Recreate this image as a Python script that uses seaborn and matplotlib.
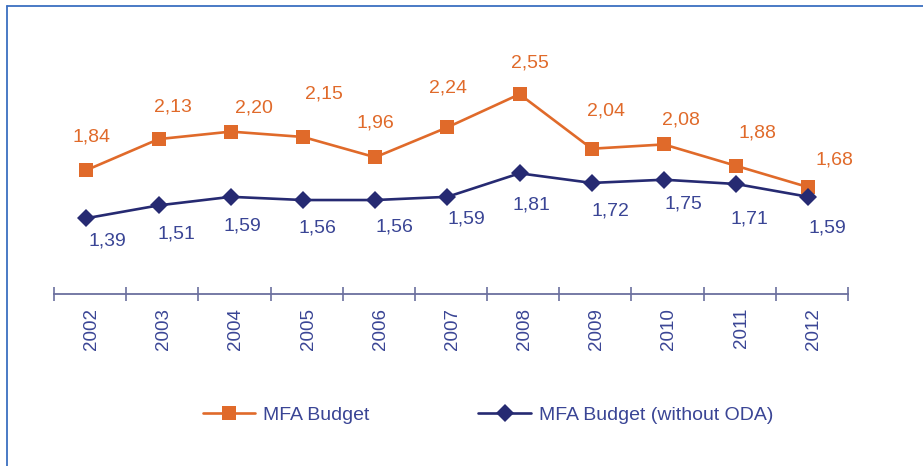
import numpy as np
import matplotlib
matplotlib.use("Agg")
import matplotlib.pyplot as plt
from matplotlib.lines import Line2D
import seaborn as sns

# Data
years = ["2002", "2003", "2004", "2005", "2006", "2007", "2008", "2009", "2010", "2011", "2012"]
mfa_budget = [1.84, 2.13, 2.20, 2.15, 1.96, 2.24, 2.55, 2.04, 2.08, 1.88, 1.68]
mfa_no_oda = [1.39, 1.51, 1.59, 1.56, 1.56, 1.59, 1.81, 1.72, 1.75, 1.71, 1.59]

# label offsets (pixels) relative to each marker
orange_off = [(5, -33), (14, -32), (23, -24), (21, -43), (0, -34), (1, -39),
              (10, -31), (14, -38), (17, -24), (21, -33), (26, -27)]
blue_off = [(21, 23), (18, 29), (12, 29), (14, 28), (19, 27), (19, 22),
            (12, 32), (19, 28), (20, 24), (13, 35), (19, 31)]

ORANGE = "#E06A2A"
NAVY = "#262A72"
BLUE_TXT = "#3A4595"
AXIS_C = "#6B6F9E"
FRAME_C = "#3C6FC0"

sns.set_theme(style="white")
plt.rcParams["font.family"] = ["Liberation Sans", "DejaVu Sans"]

W, H = 923, 466
fig = plt.figure(figsize=(W / 100, H / 100), dpi=100)
ax = fig.add_axes([54 / W, 1 - 294 / H, (848 - 54) / W, (294 - 20) / H])

x = np.arange(len(years))
sns.lineplot(x=x, y=mfa_budget, ax=ax, color=ORANGE, linewidth=1.9,
             marker="s", markersize=10, markeredgewidth=0, label="MFA Budget")
sns.lineplot(x=x, y=mfa_no_oda, ax=ax, color=NAVY, linewidth=1.9,
             marker="D", markersize=9, markeredgewidth=0, label="MFA Budget (without ODA)")

px = 72 / 100  # points per pixel
for i in range(len(years)):
    dx, dy = orange_off[i]
    ax.annotate(f"{mfa_budget[i]:.2f}".replace(".", ","), (x[i], mfa_budget[i]),
                xytext=(dx * px, -dy * px), textcoords="offset points",
                ha="center", va="center", fontsize=14, color=ORANGE)
    dx, dy = blue_off[i]
    ax.annotate(f"{mfa_no_oda[i]:.2f}".replace(".", ","), (x[i], mfa_no_oda[i]),
                xytext=(dx * px, -dy * px), textcoords="offset points",
                ha="center", va="center", fontsize=14, color=BLUE_TXT)

ax.set_xlim(-0.45, 10.5)
ax.set_ylim(0.681, 3.244)

for s in ["left", "right", "top"]:
    ax.spines[s].set_visible(False)
ax.spines["bottom"].set_color(AXIS_C)
ax.spines["bottom"].set_linewidth(1.3)

ax.set_yticks([])
# year labels sit a little right of the markers in the original
ax.set_xticks(x + 0.07)
ax.set_xticklabels(years, rotation=90, fontsize=13.5, color=BLUE_TXT, va="top")
ax.set_xticks(np.arange(-0.45, 11, 1.0), minor=True)
ax.tick_params(axis="x", which="major", length=0, pad=10)
ax.tick_params(axis="x", which="minor", direction="inout", length=10,
               width=1.2, color=AXIS_C, bottom=True)

handles = ax.get_lines()[:2]
ax.get_legend().remove()
fig.legend(handles, ["MFA Budget", "MFA Budget (without ODA)"], ncol=2,
           loc="center", bbox_to_anchor=(488 / W, 1 - 415 / H), frameon=False,
           fontsize=14, handlelength=2.7, handletextpad=0.4, columnspacing=5.6,
           labelcolor=BLUE_TXT)

# outer frame (top and left edges visible)
fig.add_artist(Line2D([7 / W, 1], [1 - 6 / H, 1 - 6 / H], color=FRAME_C, linewidth=1.3))
fig.add_artist(Line2D([7 / W, 7 / W], [0, 1 - 6 / H], color=FRAME_C, linewidth=1.3))

fig.savefig("out.png", dpi=100)
